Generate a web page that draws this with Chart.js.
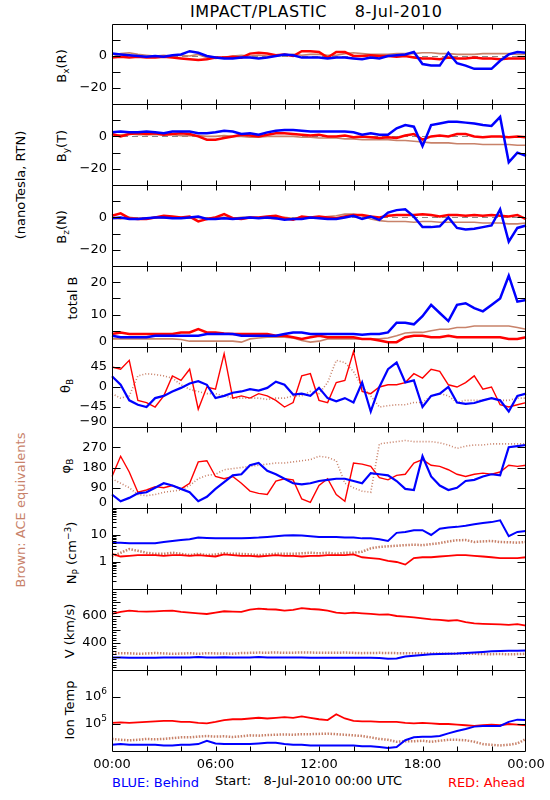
<!DOCTYPE html>
<html>
<head>
<meta charset="utf-8">
<script src="https://cdn.jsdelivr.net/npm/chart.js@4.4.0/dist/chart.umd.min.js"></script>
<style>
  body { margin: 0; background: #fff; width: 550px; height: 800px; position: relative; overflow: hidden; font-family: "DejaVu Sans", sans-serif; }
  canvas { position: absolute; left: 0; }
  .t { position: absolute; white-space: nowrap; font-size: 13px; color: #000; line-height: 15px; }
  .rot { transform: translate(-50%, -50%) rotate(-90deg); }
  .t sub { font-size: 9px; vertical-align: -3px; }
  .t sup { font-size: 9px; vertical-align: 5px; }
</style>
</head>
<body>

<div class="t" style="left:190px;top:3px;font-size:16px;line-height:18px;letter-spacing:0.5px;">IMPACT/PLASTIC&nbsp;&nbsp;&nbsp;&nbsp;&nbsp;8-Jul-2010</div>

<div class="t rot" style="left:64px;top:66px;">B<sub>x</sub>(R)</div>
<div class="t rot" style="left:64px;top:146px;">B<sub>y</sub>(T)</div>
<div class="t rot" style="left:64px;top:227px;">B<sub>z</sub>(N)</div>
<div class="t rot" style="left:72px;top:298px;">total B</div>
<div class="t rot" style="left:68px;top:386px;">&theta;<sub>B</sub></div>
<div class="t rot" style="left:68px;top:466px;">&phi;<sub>B</sub></div>
<div class="t rot" style="left:72px;top:553px;">N<sub>P</sub> (cm<sup>&minus;3</sup>)</div>
<div class="t rot" style="left:69px;top:631px;">V (km/s)</div>
<div class="t rot" style="left:69px;top:710px;">Ion Temp</div>
<div class="t rot" style="left:20px;top:185px;">(nanoTesla, RTN)</div>
<div class="t rot" style="left:20px;top:510px;color:#c8826a;">Brown: ACE equivalents</div>

<div class="t" style="left:112px;top:775px;color:#0000ff;">BLUE: Behind</div>
<div class="t" style="left:215px;top:773px;">Start:&nbsp;&nbsp;&nbsp;8-Jul-2010 00:00 UTC</div>
<div class="t" style="right:25px;top:775px;color:#ff0000;">RED: Ahead</div>

<script>
// half-hour samples, 8-Jul-2010 00:00 to 9-Jul 00:00
const TIMES = ["00:00","00:30","01:00","01:30","02:00","02:30","03:00","03:30","04:00","04:30",
  "05:00","05:30","06:00","06:30","07:00","07:30","08:00","08:30","09:00","09:30",
  "10:00","10:30","11:00","11:30","12:00","12:30","13:00","13:30","14:00","14:30",
  "15:00","15:30","16:00","16:30","17:00","17:30","18:00","18:30","19:00","19:30",
  "20:00","20:30","21:00","21:30","22:00","22:30","23:00","23:30","24:00"];
const X_TICK_LABELS = ["00:00", "06:00", "12:00", "18:00", "00:00"];

// Bx (R)
const BX_BEHIND = [1.5,1,0.5,0,-0.5,0,-0.5,0.5,1,3,2,0,-1,-1.5,-1.5,-1,-1,-1.5,-1,0,1,0.5,-1,-1,-1,-1.5,-1,-1,-1.5,-2,-1,-1.5,0,0.5,1,2.5,-5,-6,-6,2,-4.5,-6,-8,-8,-8,-3,1,2.5,2];
const BX_AHEAD = [-1,-0.5,-1,-0.5,-1,-1,-0.5,-1,-1.5,-2,-2.5,-2,-1,-1,-0.5,-1,1.5,2,1.5,0.5,1,0,3,3,2.5,-1,2.5,2.5,0,0,0.5,0,0,-0.5,0,-1,-1.5,-1.5,-2,-1,-1.5,-1.5,-1,-1.5,-1.5,-2,-1.5,-1.5,-1.5];
const BX_ACE = [-1,1.5,2,1,0.5,0,0.5,0,0.5,0,1,-1,-1.5,-1,0,0.5,0,0.5,0,0,0.5,1,0.5,1,1,0.5,0.5,1.5,2,1.5,1,1,1,1.5,1.5,1.5,2,2,1.5,1.5,1,1,1,1.5,1.5,1.5,1.5,1,1];

// By (T)
const BY_BEHIND = [2.5,3,2.5,2.5,3,2.5,2,3,3,3,2,2,2.5,3.5,3,1.5,2,1,2.5,3.5,4,4,3.5,3,3,3,3,3,2.5,1,2,1,1,5,7,6,-6,7,8,9,9,8.5,8,7,6.5,12,-16,-10,-12];
const BY_AHEAD = [1.5,0,1.5,2,1.5,2,1,1.5,2,1.5,0,-2,-2,-1,0,1,0.5,0,1,2,2,1.5,1,0.5,1,0,0,0.5,-0.5,0,-0.5,-1,-0.5,-1,0.5,1.5,-2,0,0.5,0,1.5,1.5,0,-0.5,0,0,-0.5,0,-0.5];
const BY_ACE = [1,1,1.5,1,1,1,1,1,0.5,0.5,0.5,0,0,0.5,0,0,-0.5,-0.5,0,0,0,0,-0.5,-0.5,-1,-1,-1,-1.5,-1.5,-2,-2,-2,-2,-2.5,-2.5,-3,-3.5,-4,-4,-4,-4.5,-4.5,-4.5,-5,-5,-5,-5,-5.5,-5.5];

// Bz (N)
const BZ_BEHIND = [-0.5,0,-1,-1,-0.5,0,0,-0.5,-0.5,0,0.5,-1,-1,-0.5,-1,-0.5,0,-0.5,0,-0.5,-1.5,-1,-1,0,-0.5,-1,-1,0,1,-1,0.5,-1.5,3,4.5,5,0.5,-6,-6,-5.5,0,-6.5,-7.5,-7,-6,-5,5,-15,-6.5,-5];
const BZ_AHEAD = [1,2.5,-0.5,-1,-1,0,1,0.5,0,0.5,-2.5,-1,0,2,-0.5,-1,0,0,0.5,1,-0.5,-1.5,0.5,0,0.5,0,-0.5,0.5,1.5,1.5,0.5,0,1,1.5,1.5,1.5,2,1.5,0.5,1.5,1.5,1,1.5,1,1.5,1,0.5,1.5,-1];
const BZ_ACE = [-0.5,-1,0,-0.5,-0.5,0,-0.5,0,0,-0.5,0,-0.5,0,0,-0.5,0,0,-0.5,-0.5,-1,0,-0.5,0,-0.5,0,0.5,1,2,2,1,-1,-2,-2.5,-2.5,-2.5,-3,-2.5,-2.5,-3,-3,-3,-3,-3,-3.5,-3.5,-3.5,-4,-4,-3.5];

// total B
const BT_BEHIND = [3.5,3,3,3,3,3.5,3.5,3.5,3.5,3.5,3.5,4,4,4,4,3.5,3.5,3.5,3.5,3.5,4,4.5,4.5,4,4,4,4,4,4,3.8,4,4,4.5,7.5,7.5,7,9.5,13,10.5,8,13,13.5,12,11,13,15,22,14,14.5];
const BT_AHEAD = [4,4.5,4,4,4,4,4,4,4.5,4.5,5.5,4.5,4.5,4.2,4,4,4,4,4,3.5,3.5,3,2.5,3,3.5,3,3,3,3,2.5,2.5,2,1.5,1.5,3,3.5,3.5,3,3,3.5,3,3,3,3,3,3,2.5,2.5,3];
const BT_ACE = [2.5,2.5,2.5,2.5,2.5,2.5,2.5,2.5,2.3,1.8,1.8,1.8,1.8,1.8,1.8,1.5,2.5,2.8,3,3,3,2.8,2,1.5,1.8,2.5,2.5,2.5,2.5,2.5,2.5,2.5,2.8,3.5,4.3,4.5,4.5,5,5.5,5.5,6,6,6.5,6.5,6.5,6.5,6.5,6,5.5];

// theta B (deg)
const THETA_BEHIND = [24,5,-30,-40,-45,-25,-20,-10,-2,8,13,5,-25,-20,-13,-10,-5,-8,-2,12,5,-17,-15,-20,-2,-25,-32,-25,-35,10,-55,0,40,55,10,15,-45,-20,-15,0,-35,-38,-36,-30,-25,-30,-55,-20,-15];
const THETA_AHEAD = [45,40,60,-30,-35,-45,-20,25,15,40,-50,0,-5,75,-25,-20,-25,-15,-20,-30,-45,-35,25,30,-30,-35,10,15,80,-10,-15,0,5,5,10,30,20,40,35,5,0,10,25,-5,0,-40,-45,-40,-35];
const THETA_ACE = [-15,-25,-20,25,30,28,25,20,5,-5,-10,-15,-15,-20,-25,-25,-25,-25,-28,-25,-25,-20,-20,-10,-15,10,60,55,35,0,-20,-45,-42,-40,-40,-35,-35,-20,-15,-20,-35,-30,-30,-30,-25,-30,-30,-25,-25];

// phi B (deg)
const PHI_BEHIND = [60,30,45,65,70,90,110,100,85,70,30,50,85,115,145,150,190,200,165,150,130,110,105,110,120,125,130,130,120,110,155,150,145,120,85,80,230,140,100,80,90,120,125,140,150,145,270,275,280];
const PHI_AHEAD = [140,230,160,70,80,95,90,100,85,110,205,210,140,130,140,110,75,65,60,120,130,125,40,25,100,130,60,30,200,195,185,135,125,145,150,200,215,190,185,170,150,140,150,155,150,160,190,185,190];
const PHI_ACE = [130,110,90,60,55,60,70,75,80,100,130,145,150,170,175,180,185,190,195,200,200,205,210,215,230,225,210,110,90,75,70,285,290,295,300,295,295,295,290,280,265,275,280,280,285,285,285,285,285];

// proton density (cm^-3)
const NP_BEHIND = [5.2,5.2,5,5,5,5,5.5,6,6.5,7,8,7.8,7.5,7.5,7.5,7.5,7.8,8,8.5,9,9.5,9.8,9.5,9,8.5,8.5,8.5,8,8,7.5,7.5,7,6,12,13,15,15,10,17,19,20,22,25,28,30,35,9,13,14];
const NP_AHEAD = [2,1.6,1.7,1.8,1.8,1.8,1.7,1.8,1.8,1.7,1.8,1.7,1.6,1.9,1.8,1.7,1.7,1.6,1.7,1.8,1.7,1.7,1.6,1.7,1.7,1.8,1.8,1.8,1.9,1.5,1.4,1.3,1.1,1.0,0.8,1.4,1.5,1.5,1.6,1.7,1.8,1.8,1.7,1.6,1.5,1.4,1.4,1.4,1.5];
const NP_ACE = [1.6,2.2,3,2.6,2.2,2,2,2.2,2,1.8,2,1.8,1.9,2.1,2,2,1.9,1.8,1.9,2,2,2,2.1,2.2,2.1,2.2,2,2.2,2.2,2.4,3.2,3.6,3.8,4,4.2,4.4,4.2,4.6,5,5.8,6.4,6.5,5.5,5.8,6,5.5,5.4,5.2,5.5];

// bulk speed (km/s)
const V_BEHIND = [292,292,291,290,290,291,292,292,293,292,296,292,293,294,293,292,292,296,293,292,292,292,292,291,291,291,291,291,290,290,290,288,284,286,300,306,312,316,318,320,322,326,330,334,338,340,342,342,344];
const V_AHEAD = [615,630,640,635,632,635,638,640,630,625,620,615,625,635,632,630,648,655,650,648,640,645,658,652,648,640,625,620,625,620,615,610,612,600,595,590,582,575,572,565,570,555,545,542,540,538,535,540,528];
const V_ACE = [322,325,324,320,322,326,323,320,322,324,320,325,323,322,321,326,327,329,328,330,327,328,330,329,328,327,328,329,327,325,326,327,326,325,325,324,323,323,322,320,322,321,320,318,317,319,316,318,320];

// ion temperature (K)
const T_BEHIND = [1.7e4,1.8e4,1.7e4,1.7e4,1.7e4,1.7e4,1.6e4,1.6e4,1.7e4,1.7e4,1.8e4,2.4e4,1.9e4,1.8e4,1.8e4,1.8e4,1.8e4,1.9e4,2.0e4,2.0e4,1.8e4,1.7e4,1.7e4,1.6e4,1.6e4,1.6e4,1.6e4,1.6e4,1.6e4,1.5e4,1.5e4,1.4e4,1.3e4,1.4e4,2.5e4,3.2e4,3.4e4,3.4e4,3.6e4,4.5e4,5.5e4,6.5e4,8e4,8.5e4,8.5e4,8.5e4,1.2e5,1.45e5,1.4e5];
const T_AHEAD = [1.1e5,1.15e5,1.1e5,1.15e5,1.2e5,1.25e5,1.3e5,1.3e5,1.2e5,1.2e5,1.1e5,1.05e5,1.2e5,1.4e5,1.5e5,1.5e5,1.6e5,1.7e5,1.6e5,1.7e5,1.8e5,1.7e5,1.9e5,1.7e5,1.5e5,1.4e5,2.3e5,1.6e5,1.3e5,1.25e5,1.25e5,1.2e5,1.2e5,1.2e5,1.1e5,1.05e5,1.1e5,1.05e5,1.0e5,1.0e5,0.95e5,0.9e5,0.85e5,0.9e5,0.95e5,0.9e5,1.0e5,0.95e5,0.9e5];
const T_ACE = [2.8e4,2.6e4,2.5e4,2.6e4,2.8e4,2.7e4,2.8e4,3e4,3.2e4,3.2e4,3.4e4,3.6e4,3.4e4,3.5e4,3.3e4,3.5e4,3.8e4,3.7e4,3.9e4,4e4,4.1e4,4e4,4.2e4,4.2e4,4.3e4,4.4e4,4.2e4,4e4,3.8e4,3.6e4,3.2e4,2.8e4,2.6e4,2.2e4,2.3e4,2.3e4,2.4e4,2.2e4,2.4e4,2.6e4,2.6e4,2.5e4,2.2e4,1.8e4,1.7e4,1.6e4,1.7e4,1.9e4,2.8e4];

// y ticks / labels
const B_COMP_TICKS = [10, 0, -10, -20];
const B_COMP_LABELS = [0, -20];
const BT_TICKS = [5, 10, 15, 20];
const BT_LABELS = [0, 10, 20];
const THETA_TICKS = [45, 0, -45];
const THETA_LABELS = [45, 0, -45, -90];
const PHI_TICKS = [90, 180, 270];
const PHI_LABELS = [0, 90, 180, 270];
const NP_TICKS = [1, 10];
const NP_LABELS = [1, 10];
const V_TICKS = [300, 400, 500, 600, 700];
const V_LABELS = [400, 600];
const T_TICKS = [1e5, 1e6];
const T_LABELS = [1e5, 1e6];

const BLUE = "#0000ff", RED = "#ff0000", BROWN = "#c8826a";
const PANEL_TOPS = [24, 104, 185, 266, 347, 427, 508, 589, 670, 751];

function logMinors(lo, hi) {
  const out = [];
  for (let d = lo; d < hi; d *= 10) for (let k = 2; k <= 9; k++) out.push(d * k);
  return out;
}
function stepMinors(lo, hi, step) {
  const out = [];
  for (let v = lo + step; v < hi; v += step) if (v % 100 !== 0) out.push(v);
  return out;
}

const panels = [
  { kind: "mag", type: "linear", min: -30, max: 20, ticks: B_COMP_TICKS, labels: B_COMP_LABELS, zero: true, data: [BX_BEHIND, BX_AHEAD, BX_ACE] },
  { kind: "mag", type: "linear", min: -30, max: 20, ticks: B_COMP_TICKS, labels: B_COMP_LABELS, zero: true, data: [BY_BEHIND, BY_AHEAD, BY_ACE] },
  { kind: "mag", type: "linear", min: -30, max: 20, ticks: B_COMP_TICKS, labels: B_COMP_LABELS, zero: true, data: [BZ_BEHIND, BZ_AHEAD, BZ_ACE] },
  { kind: "mag", type: "linear", min: 0, max: 25, ticks: BT_TICKS, labels: BT_LABELS, data: [BT_BEHIND, BT_AHEAD, BT_ACE] },
  { kind: "ang", type: "linear", min: -90, max: 90, ticks: THETA_TICKS, labels: THETA_LABELS, data: [THETA_BEHIND, THETA_AHEAD, THETA_ACE] },
  { kind: "ang", type: "linear", min: 0, max: 360, ticks: PHI_TICKS, labels: PHI_LABELS, data: [PHI_BEHIND, PHI_AHEAD, PHI_ACE] },
  { kind: "pla", type: "logarithmic", min: 0.1, max: 100, ticks: NP_TICKS, labels: NP_LABELS, minors: logMinors(0.1, 100), data: [NP_BEHIND, NP_AHEAD, NP_ACE] },
  { kind: "pla", type: "linear", min: 200, max: 800, ticks: V_TICKS, labels: V_LABELS, minors: stepMinors(200, 800, 20), data: [V_BEHIND, V_AHEAD, V_ACE] },
  { kind: "pla", type: "logarithmic", min: 1e4, max: 1e7, ticks: T_TICKS, labels: T_LABELS, pow: true, data: [T_BEHIND, T_AHEAD, T_ACE] }
];

const STYLES = {
  mag: [{ w: 2.5 }, { w: 2.5 }, { w: 1.6 }],
  ang: [{ w: 2.2 }, { w: 1.4 }, { w: 1.6, dash: [1, 2] }],
  pla: [{ w: 2 }, { w: 1.8 }, { w: 2.5, dash: [1.5, 1.5] }]
};

function fmt(v) { return v < 0 ? "\u2212" + Math.abs(v) : String(v); }

const idlFrame = {
  id: "idlFrame",
  beforeDatasetsDraw(chart, args, o) {
    if (!o.zero) return;
    const { ctx, chartArea: a } = chart;
    const y = Math.round(chart.scales.y.getPixelForValue(0)) + 0.5;
    ctx.save();
    ctx.strokeStyle = "#888";
    ctx.lineWidth = 1;
    ctx.setLineDash([6, 4]);
    ctx.beginPath(); ctx.moveTo(a.left, y); ctx.lineTo(a.right, y); ctx.stroke();
    ctx.restore();
  },
  afterDraw(chart, args, o) {
    const { ctx, chartArea: a } = chart;
    const ys = chart.scales.y, xs = chart.scales.x;
    const L = Math.round(a.left) + 0.5, R = Math.round(a.right) - 0.5;
    const T = Math.round(a.top) + 0.5, B = Math.round(a.bottom) + 0.5;
    ctx.save();
    ctx.strokeStyle = "#000";
    ctx.lineWidth = 1;
    ctx.beginPath();
    ctx.rect(L, T, R - L, B - T);
    // time ticks every 2 h
    for (let i = 4; i < TIMES.length - 1; i += 4) {
      const x = Math.round(xs.getPixelForValue(i)) + 0.5;
      ctx.moveTo(x, T); ctx.lineTo(x, T + 5);
      ctx.moveTo(x, B); ctx.lineTo(x, B - 5);
    }
    o.ticks.forEach(v => {
      const y = Math.round(ys.getPixelForValue(v)) + 0.5;
      ctx.moveTo(L, y); ctx.lineTo(L + 8, y);
      ctx.moveTo(R, y); ctx.lineTo(R - 8, y);
    });
    (o.minors || []).forEach(v => {
      const y = Math.round(ys.getPixelForValue(v)) + 0.5;
      ctx.moveTo(L, y); ctx.lineTo(L + 4, y);
    });
    ctx.stroke();

    ctx.fillStyle = "#000";
    ctx.textBaseline = "middle";
    ctx.textAlign = "right";
    o.labels.forEach(v => {
      let y = ys.getPixelForValue(v);
      y = Math.max(a.top + 5, Math.min(a.bottom - 5, y));
      if (o.pow) {
        ctx.font = '9px "DejaVu Sans"';
        const e = String(Math.round(Math.log10(v)));
        ctx.fillText(e, a.left - 5, y - 5);
        const ew = ctx.measureText(e).width;
        ctx.font = '13px "DejaVu Sans"';
        ctx.fillText("10", a.left - 5 - ew, y);
      } else {
        ctx.font = '13px "DejaVu Sans"';
        ctx.fillText(fmt(v), a.left - 5, y);
      }
    });
    if (o.xLabels) {
      ctx.textAlign = "center";
      ctx.font = '13px "DejaVu Sans"';
      o.xLabels.forEach((t, k) => {
        ctx.fillText(t, xs.getPixelForValue(k * 12), a.bottom + 14);
      });
    }
    ctx.restore();
  }
};

panels.forEach((p, n) => {
  const top = PANEL_TOPS[n], h = PANEL_TOPS[n + 1] - top;
  const last = n === panels.length - 1;
  const padB = last ? 30 : 8;
  const cv = document.createElement("canvas");
  cv.width = 550;
  cv.height = h + 8 + padB;
  cv.style.top = (top - 8) + "px";
  document.body.appendChild(cv);

  const colors = [BLUE, RED, BROWN];
  const datasets = p.data.map((d, k) => {
    const s = STYLES[p.kind][k];
    return {
      data: d,
      borderColor: colors[k],
      backgroundColor: colors[k],
      borderWidth: s.w,
      borderDash: s.dash || [],
      pointRadius: 0,
      tension: 0,
      fill: false
    };
  });

  new Chart(cv, {
    type: "line",
    data: { labels: TIMES, datasets },
    options: {
      responsive: false,
      animation: false,
      devicePixelRatio: 1,
      layout: { padding: { left: 112, right: 24, top: 8, bottom: padB } },
      plugins: {
        legend: { display: false },
        tooltip: { enabled: false },
        idlFrame: { ticks: p.ticks, labels: p.labels, minors: p.minors, zero: p.zero, pow: p.pow, xLabels: last ? X_TICK_LABELS : null }
      },
      scales: {
        x: { display: false, offset: false },
        y: { display: false, type: p.type, min: p.min, max: p.max }
      }
    },
    plugins: [idlFrame]
  });
});
</script>
</body>
</html>
